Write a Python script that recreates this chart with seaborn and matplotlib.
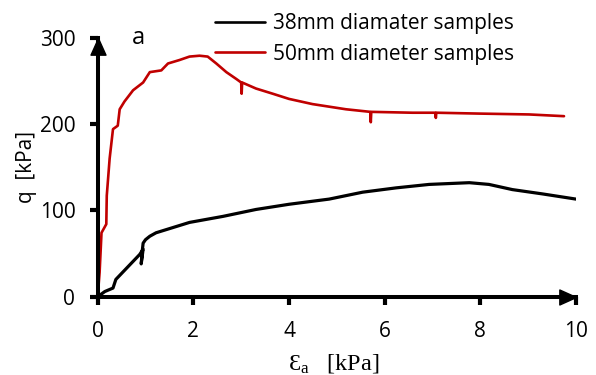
import numpy as np
import pandas as pd
import matplotlib
matplotlib.use("Agg")
import matplotlib.pyplot as plt
import seaborn as sns

sns.set_style("white")
plt.rcParams['font.family'] = ['Open Sans', 'DejaVu Sans']
plt.rcParams['mathtext.fontset'] = 'custom'
plt.rcParams['mathtext.rm'] = 'Liberation Serif'
plt.rcParams['mathtext.it'] = 'Liberation Serif'
plt.rcParams['text.color'] = 'black'
plt.rcParams['axes.labelcolor'] = 'black'
plt.rcParams['xtick.color'] = 'black'
plt.rcParams['ytick.color'] = 'black'

# 38mm diameter samples (axial strain, deviator stress)
black_x = [0, 0.15, 0.32, 0.38, 0.88, 0.95, 0.91, 0.93, 0.95, 1.0, 1.09, 1.22,
           1.57, 1.92, 2.62, 3.31, 4.0, 4.84, 5.54, 6.24, 6.93, 7.77, 8.18,
           8.67, 9.3, 10.0]
black_q = [0, 6, 10, 20, 49, 55, 38, 52, 62, 66, 70, 74,
           80, 86, 93, 101, 107, 113, 121, 126, 130, 132, 130,
           124, 119, 113]

# 50mm diameter samples
red_x = [0, 0.04, 0.08, 0.18, 0.19, 0.25, 0.32, 0.42, 0.46, 0.56, 0.74, 0.95,
         1.09, 1.33, 1.47, 1.71, 1.92, 2.13, 2.30, 2.48, 2.69, 2.9, 3.0, 3.01,
         3.02, 3.31, 3.66, 4.0, 4.49, 5.19, 5.70, 5.71, 5.72, 6.58, 7.06, 7.07,
         7.08, 7.97, 9.02, 9.75]
red_q = [0, 28, 74, 84, 117, 160, 194, 198, 217, 226, 239, 248,
         260, 262, 270, 274, 278, 279, 278, 270, 260, 252, 248, 235,
         248, 241, 235, 229, 223, 217, 214, 202, 214, 213, 213, 207,
         213, 212, 211, 209]

labels = ['38mm diamater samples', '50mm diameter samples']
x_ticks = [0, 2, 4, 6, 8, 10]
y_ticks = [0, 100, 200, 300]

df = pd.concat([
    pd.DataFrame({'strain': black_x, 'q': black_q, 'sample': labels[0]}),
    pd.DataFrame({'strain': red_x, 'q': red_q, 'sample': labels[1]}),
], ignore_index=True)

fig = plt.figure(figsize=(5.96, 3.75), dpi=100)
ax = fig.add_axes([0.1639, 0.2088, 0.8025, 0.691])

sns.lineplot(data=df, x='strain', y='q', hue='sample', sort=False,
             estimator=None, palette=['black', '#C00000'], ax=ax,
             linewidth=1.9)
ax.lines[0].set_linewidth(2.3)

ax.set_xlim(0, 10)
ax.set_ylim(0, 300)
ax.set_xticks(x_ticks)
ax.set_yticks(y_ticks)
ax.tick_params(axis='both', direction='out', length=5.6, width=3,
               labelsize=15, color='black', labelcolor='black',
               bottom=True, left=True)
ax.tick_params(axis='x', pad=12)
ax.tick_params(axis='y', pad=10.5)
for side in ['top', 'right']:
    ax.spines[side].set_visible(False)
for side in ['left', 'bottom']:
    ax.spines[side].set_linewidth(2.9)
    ax.spines[side].set_color('black')

# arrow heads at axis ends, tip placed exactly on the axis end
right_head = [(0, 0), (-1, 0.45), (-1, -0.45), (0, 0)]
up_head = [(0, 0), (0.45, -1), (-0.45, -1), (0, 0)]
ax.plot(1, 0, marker=right_head, color='black', markersize=24, linestyle='none',
        transform=ax.get_yaxis_transform(), clip_on=False)
ax.plot(0, 1, marker=up_head, color='black', markersize=24, linestyle='none',
        transform=ax.get_xaxis_transform(), clip_on=False)

ax.set_ylabel('q  [kPa]', fontsize=15)
ax.yaxis.set_label_coords(-0.127, 0.5)
ax.set_xlabel(r'Ɛ$_{\mathrm{a}}$   [kPa]', fontsize=17.5,
              family=['Liberation Serif', 'DejaVu Serif'])
ax.xaxis.set_label_coords(0.494, -0.212)
ax.text(0.072, 1.0, 'a', transform=ax.transAxes, fontsize=17,
        ha='left', va='center')

handles, _ = ax.get_legend_handles_labels()
ax.legend(handles=handles, labels=labels, loc='upper left',
          bbox_to_anchor=(207 / 596, 1 - 5 / 375), bbox_transform=fig.transFigure,
          frameon=False, fontsize=15, handlelength=2.4, handletextpad=0.35,
          labelspacing=0.45, borderaxespad=0)

fig.savefig('out.png', dpi=100)
plt.close(fig)
